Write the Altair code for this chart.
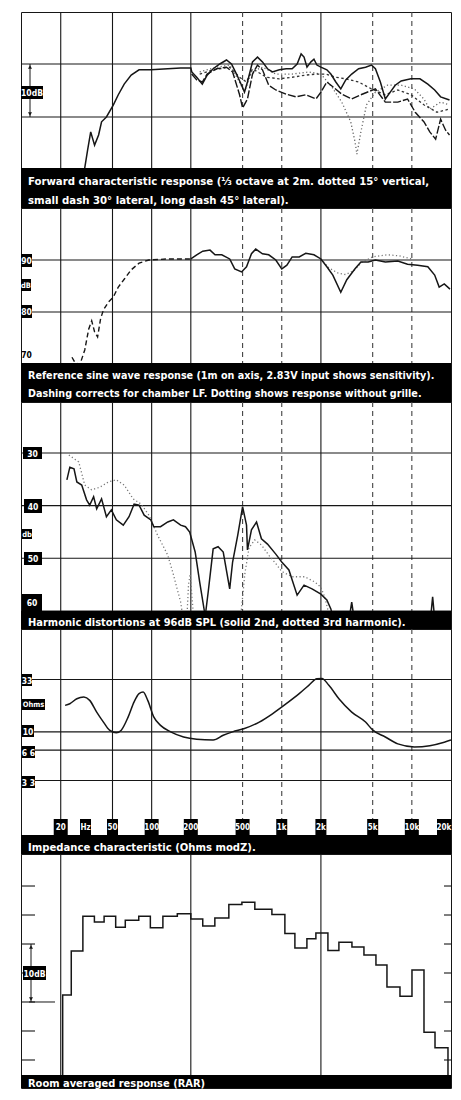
import altair as alt
import pandas as pd

W = 430
INK = "#161616"
FONT = "'DejaVu Sans Condensed', 'Liberation Sans Narrow', 'Liberation Sans', Arial, sans-serif"

# ---------------- data ----------------
grid_solid_hz = [20, 50, 100, 200, 2000]
grid_dash_hz = [500, 1000, 5000, 10000]
rar_grid_hz = [20, 200, 2000]

# Panel 1: forward characteristic response (relative dB)
fwd_solid_hz = [29.8, 30.6, 32.2, 34.0, 36.4, 39.1, 41.2, 44.9, 50.8, 55.4, 61.5, 69.6, 80, 98.6, 133, 167, 200, 203.5, 222, 245, 267, 297, 334, 376, 411, 449, 491, 517, 545, 596, 651, 711, 777, 848, 958, 1082, 1202, 1313, 1409, 1484, 1563, 1677, 1768, 1863, 2000, 2222, 2385, 2604, 2843, 3105, 3450, 3900, 4407, 4896, 5248, 5728, 6254, 6827, 7451, 8279, 9848, 11540, 13270, 14980, 16640, 19480]
fwd_solid_db = [-22.0, -19.6, -16.2, -12.8, -15.3, -13.4, -10.9, -10.0, -7.7, -5.8, -3.8, -2.1, -1.1, -1.1, -0.9, -0.75, -0.75, -1.5, -2.5, -3.8, -2.1, -0.9, 0.0, 0.75, 0.0, -1.9, -4.0, -5.3, -3.4, 0.4, 1.3, 0.4, -0.9, -1.5, -1.1, -0.9, -0.9, 0.0, 1.9, 1.3, -0.6, 0.4, 0.9, -0.2, -0.6, -1.1, -1.9, -3.4, -4.7, -3.0, -1.9, -0.9, -0.6, -0.2, -0.9, -3.4, -6.6, -5.3, -4.0, -3.2, -2.8, -2.8, -3.8, -4.9, -6.2, -6.8]
fwd_long_hz = [203, 222, 245, 267, 316, 376, 419, 474, 500, 545, 596, 651, 711, 794, 900, 1082, 1285, 1530, 1833, 2000, 2222, 2470, 2894, 3450, 4060, 5248, 6254, 7805, 9270, 10620, 12370, 13740, 15240, 16640, 18180, 19480]
fwd_long_db = [-1.9, -3.0, -3.4, -1.9, -0.9, -0.6, -1.5, -5.8, -8.3, -6.6, -1.9, -0.2, -1.1, -4.0, -4.9, -5.7, -6.2, -5.8, -6.6, -5.3, -3.4, -4.3, -5.7, -6.6, -5.8, -4.7, -7.2, -7.2, -6.6, -9.1, -10.9, -12.8, -14.2, -10.4, -12.5, -13.4]
fwd_small_hz = [234, 297, 398, 474, 536, 596, 763, 958, 1202, 1530, 1833, 2182, 2604, 3105, 3900, 4896, 6254, 7805, 9848, 12370, 15610, 19480]
fwd_small_db = [-1.9, -1.1, -0.6, -2.5, -3.4, -0.9, -2.5, -2.8, -2.5, -2.1, -1.9, -1.9, -2.5, -2.8, -3.4, -4.7, -5.8, -4.9, -5.8, -7.7, -9.1, -8.5]
fwd_dot_hz = [234, 316, 398, 459, 517, 585, 711, 900, 1202, 1614, 2000, 2424, 2894, 3390, 3658, 3783, 4060, 4480, 5248, 6510, 8279, 10450, 12370, 13740, 16640, 19480]
fwd_dot_db = [-1.5, -0.6, -0.2, -2.8, -5.3, -1.5, -0.6, -1.9, -1.9, -1.5, -1.9, -4.3, -7.2, -10.9, -14.7, -17.0, -12.8, -7.7, -5.3, -4.0, -4.0, -4.7, -6.6, -8.5, -7.2, -7.7]

# Panel 2: reference sine wave response (dB SPL)
ref_lf_hz = [24.4, 25.6, 28.0, 30.6, 32.8, 34.6, 36.4, 38.4, 40.5, 42.6, 46.5, 50.8, 55.4, 61.5, 69.6, 80, 95.2, 133, 200]
ref_lf_db = [71.3, 70.4, 69.8, 72.7, 76.7, 78.3, 76.2, 75.2, 78.7, 80.4, 81.9, 82.9, 84.8, 86.3, 88.1, 89.4, 90.0, 90.2, 90.2]
ref_solid_hz = [200, 222, 247, 281, 307, 346, 398, 435, 491, 536, 585, 631, 711, 794, 900, 1000, 1095, 1202, 1362, 1530, 1768, 2000, 2222, 2470, 2843, 3162, 3658, 4060, 4620, 5248, 6254, 7805, 9270, 11080, 13270, 14980, 16220, 17750, 19650]
ref_solid_db = [90.2, 91.0, 91.7, 91.9, 91.0, 91.0, 90.2, 88.3, 87.7, 88.7, 91.2, 92.1, 91.2, 91.0, 90.0, 88.3, 89.0, 90.6, 90.6, 91.3, 91.0, 90.2, 88.7, 87.1, 83.8, 86.2, 88.3, 89.6, 89.6, 90.0, 89.6, 89.8, 89.2, 89.0, 88.7, 87.1, 84.8, 85.4, 84.4]
ref_dot_hz = [2000, 2300, 2700, 3100, 3600, 4100, 5000, 6500, 8000, 10000]
ref_dot_db = [90.2, 88.5, 87.5, 87.2, 88.0, 89.5, 90.6, 91.0, 90.8, 90.2]

# Panel 3: harmonic distortion (dB below fundamental)
hd2_hz = [22.3, 23.5, 25.3, 26.6, 29.0, 31.6, 33.4, 35.8, 37.8, 41.2, 44.9, 49.0, 53.5, 60.5, 67, 73.3, 80, 87.6, 98.6, 103.9, 117, 133, 147, 167, 182, 196, 216, 234, 258, 272, 297, 324, 355, 398, 419, 459, 500, 536, 545, 585, 640, 698, 777, 900, 1000, 1135, 1313, 1484, 1709, 2000, 2222, 2385, 2550, 3250, 3450, 3650, 13800, 14450, 15100, 20000]
hd2_db = [35.1, 32.7, 33.0, 35.5, 36.1, 38.9, 39.9, 38.3, 40.6, 38.7, 42.1, 40.8, 42.7, 43.7, 42.1, 39.7, 39.9, 41.8, 42.7, 44.0, 44.0, 43.1, 42.7, 43.7, 44.0, 45.0, 48.8, 54.5, 61.0, 56.4, 48.2, 47.8, 48.8, 55.8, 50.7, 45.6, 40.2, 43.7, 48.4, 44.6, 43.1, 46.3, 47.3, 49.2, 50.7, 52.2, 57.0, 55.1, 55.8, 56.8, 57.9, 59.6, 62.5, 62.5, 58.3, 62.5, 62.5, 57.3, 62.5, 62.5]
hd3_hz = [23.1, 27.5, 30.6, 34.6, 40, 46.5, 53.5, 61.5, 72, 82.9, 95.2, 111, 133, 147, 167, 176, 186, 192, 198, 205, 212, 480, 520, 560, 620, 700, 800, 900, 1000, 1200, 1500, 1800, 2000, 2150, 2300, 2450, 20000]
hd3_db = [30.4, 31.7, 36.1, 37.0, 36.5, 35.5, 35.1, 36.1, 38.7, 39.7, 41.8, 45.6, 49.4, 53.1, 58.3, 62.0, 62.0, 55.0, 53.0, 58.0, 62.0, 62.0, 53.0, 48.0, 46.5, 47.5, 49.5, 51.0, 52.5, 53.5, 53.5, 54.5, 55.5, 57.5, 60.5, 62.5, 62.5]

# Panel 4: impedance (ohms)
imp_hz = [21.6, 23.5, 26.6, 30.1, 33.4, 37.8, 42.6, 47.4, 53.5, 58.4, 65.9, 73.3, 80, 86, 93.3, 104, 117, 140, 176, 222, 297, 355, 419, 517, 672, 848, 1082, 1362, 1614, 1863, 2035, 2303, 2750, 3450, 4407, 5012, 6254, 7805, 10450, 13740, 17750, 20000]
imp_ohm = [18.3, 19.0, 21.3, 22.1, 20.5, 15.7, 12.5, 10.4, 9.8, 10.4, 14.0, 19.8, 23.9, 24.8, 20.5, 14.0, 11.6, 10.0, 8.9, 8.45, 8.3, 9.25, 10.0, 10.8, 12.5, 15.1, 19.0, 23.9, 28.9, 33.6, 33.8, 28.9, 21.3, 15.7, 12.5, 10.4, 8.9, 7.6, 7.1, 7.3, 7.9, 8.3]
imp_ticks = [33, 10, 6.6, 3.3]
freq_label_hz_wide = [20, 100, 200, 500, 10000]
freq_label_txt_wide = ["20", "100", "200", "500", "10k"]
freq_label_hz_narrow = [31, 50, 1000, 2000, 5000]
freq_label_txt_narrow = ["Hz", "50", "1k", "2k", "5k"]

# Panel 5: room averaged response, 1/3-octave band edges and levels
rar_edges_hz = [20.7, 24.1, 29.6, 36.3, 43.1, 52.9, 62.7, 79.6, 97.7, 122, 157.5, 200, 247, 306, 392, 494, 621, 840, 1057, 1262, 1561, 1830, 2264, 2750, 3464, 4284, 5298, 6438, 8106, 10024, 12400, 15070, 18960]
rar_db = [11.2, 18.8, 24.8, 23.8, 24.8, 22.9, 24.1, 24.8, 22.8, 24.8, 25.2, 24.3, 23.1, 24.5, 26.8, 27.2, 26.0, 25.1, 21.8, 19.3, 20.9, 21.9, 18.9, 20.3, 19.5, 18.1, 16.4, 12.6, 11.0, 15.5, 4.8, 2.1]
rar_ticks = [0, 5, 10, 15, 20, 25, 30]

captions = [
    ["Forward characteristic response (\u2153 octave at 2m. dotted 15\u00b0 vertical,",
     "small dash 30\u00b0 lateral, long dash 45\u00b0 lateral)."],
    ["Reference sine wave response (1m on axis, 2.83V input shows sensitivity).",
     "Dashing corrects for chamber LF. Dotting shows response without grille."],
    ["Harmonic distortions at 96dB SPL (solid 2nd, dotted 3rd harmonic)."],
    ["Impedance characteristic (Ohms modZ)."],
    ["Room averaged response (RAR)"],
]

# ---------------- helpers ----------------
XS = alt.Scale(type="log", domain=[9.9, 20000])


def X():
    return alt.X("f:Q", scale=XS, axis=None)


def Y(scale):
    return alt.Y("v:Q", scale=scale, axis=None)


def one(t=""):
    return pd.DataFrame({"t": [t]})


def curve(f, v, ys, dash=None, color=INK, width=1.5, interp="linear"):
    kw = dict(color=color, strokeWidth=width, clip=True, interpolate=interp)
    if dash:
        kw["strokeDash"] = dash
    d = pd.DataFrame({"f": f, "v": v, "i": list(range(len(f)))})
    return alt.Chart(d).mark_line(**kw).encode(x=X(), y=Y(ys), order="i:Q")


def vgrid(freqs, h, dash=None):
    kw = dict(color=INK, strokeWidth=1.1)
    if dash:
        kw["strokeDash"] = dash
        kw["color"] = "#444"
    return alt.Chart(pd.DataFrame({"f": freqs})).mark_rule(**kw).encode(
        x=X(), y=alt.value(0), y2=alt.value(h))


def hgrid(vals, ys):
    return alt.Chart(pd.DataFrame({"v": vals})).mark_rule(color=INK, strokeWidth=1.1).encode(
        y=Y(ys), x=alt.value(0), x2=alt.value(W))


def box(text, x0, x1, y0, y1, size=8.5, bg=True):
    layers = []
    if bg:
        layers.append(alt.Chart(one()).mark_rect(color="black").encode(
            x=alt.value(x0), x2=alt.value(x1), y=alt.value(y0), y2=alt.value(y1)))
    layers.append(alt.Chart(one(text)).mark_text(
        color="white" if bg else "black", font=FONT, fontSize=size, fontWeight="bold",
        align="center", baseline="middle").encode(
        text="t:N", x=alt.value((x0 + x1) / 2), y=alt.value((y0 + y1) / 2 + 0.5)))
    return layers


def caption(lines, y0, y1, baselines, size=11):
    layers = [alt.Chart(one()).mark_rect(color="black").encode(
        x=alt.value(0), x2=alt.value(W), y=alt.value(y0), y2=alt.value(y1))]
    for txt, b in zip(lines, baselines):
        layers.append(alt.Chart(one(txt)).mark_text(
            color="white", font=FONT, fontSize=size, fontWeight="bold",
            align="left", baseline="alphabetic", limit=W - 10).encode(
            text="t:N", x=alt.value(7), y=alt.value(b)))
    return layers


def arrow(x, ytop, ybot, g0, g1):
    d = one()
    return [
        alt.Chart(d).mark_rule(color=INK, strokeWidth=1).encode(
            x=alt.value(x), y=alt.value(ytop), y2=alt.value(g0)),
        alt.Chart(d).mark_rule(color=INK, strokeWidth=1).encode(
            x=alt.value(x), y=alt.value(g1), y2=alt.value(ybot)),
        alt.Chart(d).mark_point(shape="triangle-up", filled=True, size=16, color=INK, opacity=1).encode(
            x=alt.value(x), y=alt.value(ytop + 3)),
        alt.Chart(d).mark_point(shape="triangle-down", filled=True, size=16, color=INK, opacity=1).encode(
            x=alt.value(x), y=alt.value(ybot - 3)),
    ]


# ---------------- panel 1 ----------------
H1 = 196
ys1 = alt.Scale(domain=[-27.17, 9.81])
p1 = alt.layer(
    vgrid(grid_solid_hz, H1), vgrid(grid_dash_hz, H1, [5, 4]),
    hgrid([0, -10], ys1),
    curve(fwd_dot_hz, fwd_dot_db, ys1, dash=[1.2, 2.4], color="#666", width=1.3),
    curve(fwd_small_hz, fwd_small_db, ys1, dash=[2.5, 2.5], width=1.3, color="#333"),
    curve(fwd_long_hz, fwd_long_db, ys1, dash=[8, 2], width=1.4),
    curve(fwd_solid_hz, fwd_solid_db, ys1, width=1.5),
    *arrow(9, 52, 105, 74, 87),
    *box("10dB", 0, 22, 74, 87),
    *caption(captions[0], 156, H1, [173, 192], size=11.3),
).properties(width=W, height=H1)

# ---------------- panel 2 ----------------
H2 = 194
ys2 = alt.Scale(domain=[62.69, 100])
p2 = alt.layer(
    vgrid(grid_solid_hz, H2), vgrid(grid_dash_hz, H2, [5, 4]),
    hgrid([90, 80], ys2),
    curve(ref_lf_hz, ref_lf_db, ys2, dash=[5, 3], width=1.4),
    curve(ref_dot_hz, ref_dot_db, ys2, dash=[1.2, 2.4], color="#777", width=1.3),
    curve(ref_solid_hz, ref_solid_db, ys2, width=1.5),
    *box("90", 0, 11, 46, 59),
    *box("dB", 0, 10, 71, 83, size=7.5),
    *box("80", 0, 11, 97, 110),
    *box("70", 0, 11, 140, 153, bg=False),
    *caption(captions[1], 155, H2, [171, 189], size=10.7),
).properties(width=W, height=H2)

# ---------------- panel 3 ----------------
H3 = 227
ys3 = alt.Scale(domain=[20.32, 63.42], reverse=True)
p3 = alt.layer(
    vgrid(grid_solid_hz, H3), vgrid(grid_dash_hz, H3, [5, 4]),
    hgrid([30, 40, 50, 60], ys3),
    curve(hd3_hz, hd3_db, ys3, dash=[1.2, 2.4], color="#777", width=1.3),
    curve(hd2_hz, hd2_db, ys3, width=1.5),
    *box("30", 2, 21, 45, 57),
    *box("40", 3, 21, 97, 111),
    *box("db", 1, 11, 127, 137, size=7.5),
    *box("50", 3, 21, 150, 163),
    *box("60", 1, 21, 192, 209),
    *caption(captions[2], 209, H3, [224], size=11),
).properties(width=W, height=H3)

# ---------------- panel 4 ----------------
H4 = 225
ys4 = alt.Scale(type="log", domain=[0.6176, 104.36])
flw = pd.DataFrame({"f": freq_label_hz_wide, "t": freq_label_txt_wide})
fln = pd.DataFrame({"f": freq_label_hz_narrow, "t": freq_label_txt_narrow})
fl20k = pd.DataFrame({"f": [20000], "t": ["20k"]})


def flabels(d, w, xoff=0):
    return [
        alt.Chart(d).mark_tick(color="black", thickness=w, size=16, orient="vertical", opacity=1, xOffset=xoff).encode(
            x=X(), y=alt.value(198)),
        alt.Chart(d).mark_text(color="white", font=FONT, fontSize=8, fontWeight="bold",
                               baseline="middle", xOffset=xoff).encode(
            x=X(), y=alt.value(199), text="t:N"),
    ]


p4 = alt.layer(
    vgrid(grid_solid_hz, H4), vgrid(grid_dash_hz, H4, [5, 4]),
    hgrid(imp_ticks, ys4),
    curve(imp_hz, imp_ohm, ys4, width=1.5, interp="monotone"),
    *box("33", 1, 11, 45, 57),
    *box("Ohms", 1, 24, 70, 81, size=7.5),
    *box("10", 1, 13, 96, 108),
    *box("6 6", 1, 14, 117, 129),
    *box("3 3", 1, 14, 147, 159),
    *flabels(flw, 14), *flabels(fln, 11), *flabels(fl20k, 14, -7),
    *caption(captions[3], 206, H4, [222], size=11.2),
).properties(width=W, height=H4)

# ---------------- panel 5 ----------------
H5 = 234
ys5 = alt.Scale(domain=[-4.83, 35.52])
step_f = [rar_edges_hz[0]] + rar_edges_hz
step_v = [-8] + rar_db + [-8]
ticks = pd.DataFrame({"v": rar_ticks})
p5 = alt.layer(
    vgrid(rar_grid_hz, H5),
    alt.Chart(ticks).mark_rule(color=INK, strokeWidth=1.1).encode(y=Y(ys5), x=alt.value(1), x2=alt.value(14)),
    alt.Chart(ticks).mark_rule(color=INK, strokeWidth=1.1).encode(y=Y(ys5), x=alt.value(W - 7), x2=alt.value(W)),
    alt.Chart(pd.DataFrame({"v": [10]})).mark_rule(color=INK, strokeWidth=1).encode(
        y=Y(ys5), x=alt.value(8), x2=alt.value(34)),
    curve(step_f, step_v, ys5, width=1.5, interp="step-after"),
    *arrow(10, 90, 148, 112, 126),
    *box("10dB", 2, 25, 112, 126),
    *caption(captions[4], 221, H5, [233], size=11),
).properties(width=W, height=H5)

chart = alt.vconcat(p1, p2, p3, p4, p5, spacing=0, bounds="flush").properties(
    padding={"left": 11, "top": 2, "right": 0, "bottom": 0}
).configure_view(stroke=INK, strokeWidth=1)

chart.save("out.html", embed_options={"renderer": "svg", "actions": False})
